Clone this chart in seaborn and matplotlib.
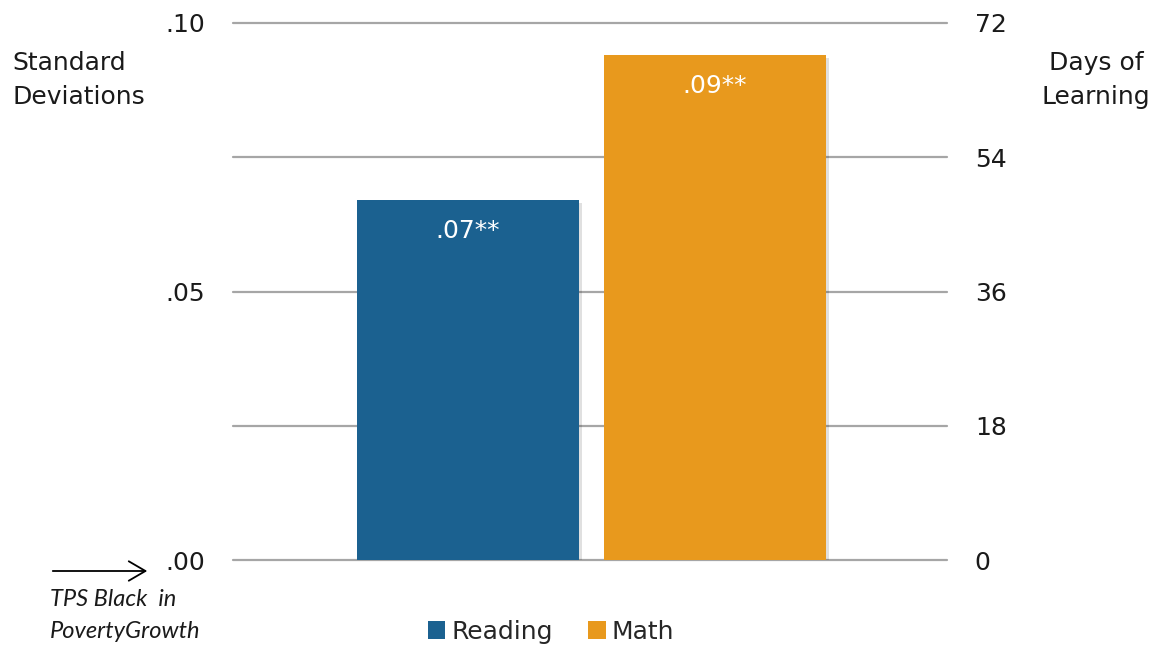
import matplotlib
matplotlib.use("Agg")
import matplotlib.pyplot as plt
import matplotlib.patheffects as pe
from matplotlib.patches import Patch, FancyArrowPatch
import seaborn as sns
import pandas as pd

# Effect sizes (standard deviations) by subject
subjects = ["Reading", "Math"]
effects = [0.067, 0.094]
significance = ["**", "**"]
colors = ["#1b6190", "#e8991d"]

sd_ticks = [0.0, 0.025, 0.05, 0.075, 0.10]
sd_tick_labels = [".00", "", ".05", "", ".10"]
days_ticks = [0, 18, 36, 54, 72]

sns.set_theme(style="white")
plt.rcParams["font.family"] = ["DejaVu Sans"]

df = pd.DataFrame({"subject": subjects, "effect": effects})

fig = plt.figure(figsize=(11.58, 6.46), dpi=100)
ax = fig.add_axes([0.2012, 0.1331, 0.6166, 0.8313])

sns.barplot(data=df, x="subject", y="effect", hue="subject",
            palette=colors, width=0.9, dodge=False, legend=False,
            saturation=1, linewidth=0, ax=ax, zorder=3)

for bar in ax.patches:
    bar.set_linewidth(0)
    bar.set_path_effects([pe.SimplePatchShadow(offset=(2, -2), shadow_rgbFace="#000000", alpha=0.12),
                          pe.Normal()])

ax.set_xlim(-0.951, 1.939)
ax.set_ylim(0, 0.10)
ax.set_yticks(sd_ticks)
ax.set_yticklabels(sd_tick_labels)
ax.set_xticks([])
ax.set_xlabel("")
ax.set_ylabel("")
for s in ax.spines.values():
    s.set_visible(False)
ax.yaxis.grid(True, color="#a6a6a6", linewidth=1.6, zorder=0)
for gl in ax.get_ygridlines():
    gl.set_clip_on(False)
ax.set_axisbelow(True)
ax.tick_params(axis="y", length=0, pad=20, labelsize=18, labelcolor="#1a1a1a")

# Right axis in days of learning
ax2 = ax.twinx()
ax2.set_ylim(0, 72)
ax2.set_yticks(days_ticks)
ax2.set_yticklabels([str(d) for d in days_ticks])
for s in ax2.spines.values():
    s.set_visible(False)
ax2.grid(False)
ax2.tick_params(axis="y", length=0, pad=20, labelsize=18, labelcolor="#1a1a1a")

# Value labels inside the bars
for i, (v, sig) in enumerate(zip(effects, significance)):
    label = f"{v:.2f}".lstrip("0") + sig
    ax.annotate(label, xy=(i, v), xytext=(0, -22), textcoords="offset points",
                ha="center", va="center", color="white", fontsize=18, zorder=5)

fig.text(0.0104, 0.876, "Standard\nDeviations", ha="left", va="center",
         fontsize=18, color="#1a1a1a", linespacing=1.55)
fig.text(0.9465, 0.876, "Days of\nLearning", ha="center", va="center",
         fontsize=18, color="#1a1a1a", linespacing=1.55)

# Baseline marker and caption
fig.add_artist(FancyArrowPatch(
    (50 / 1158, 1 - 571 / 646), (150 / 1158, 1 - 571 / 646),
    transform=fig.transFigure, arrowstyle="->,head_length=12,head_width=7",
    color="black", linewidth=1.3, mutation_scale=1))
fig.text(0.0432, 0.072, "TPS Black  in", ha="left", va="center",
         fontsize=17, style="italic", family="Lato", color="#1a1a1a")
fig.text(0.0432, 0.022, "PovertyGrowth", ha="left", va="center",
         fontsize=17, style="italic", family="Lato", color="#1a1a1a")

handles = [Patch(facecolor=c, edgecolor="none") for c in colors]
fig.legend(handles, subjects, loc="center", bbox_to_anchor=(0.476, 0.022),
           ncol=2, frameon=False, fontsize=18, handlelength=0.7, handleheight=0.7,
           handletextpad=0.25, columnspacing=1.4, borderaxespad=0)

fig.savefig("out.png", dpi=100)
